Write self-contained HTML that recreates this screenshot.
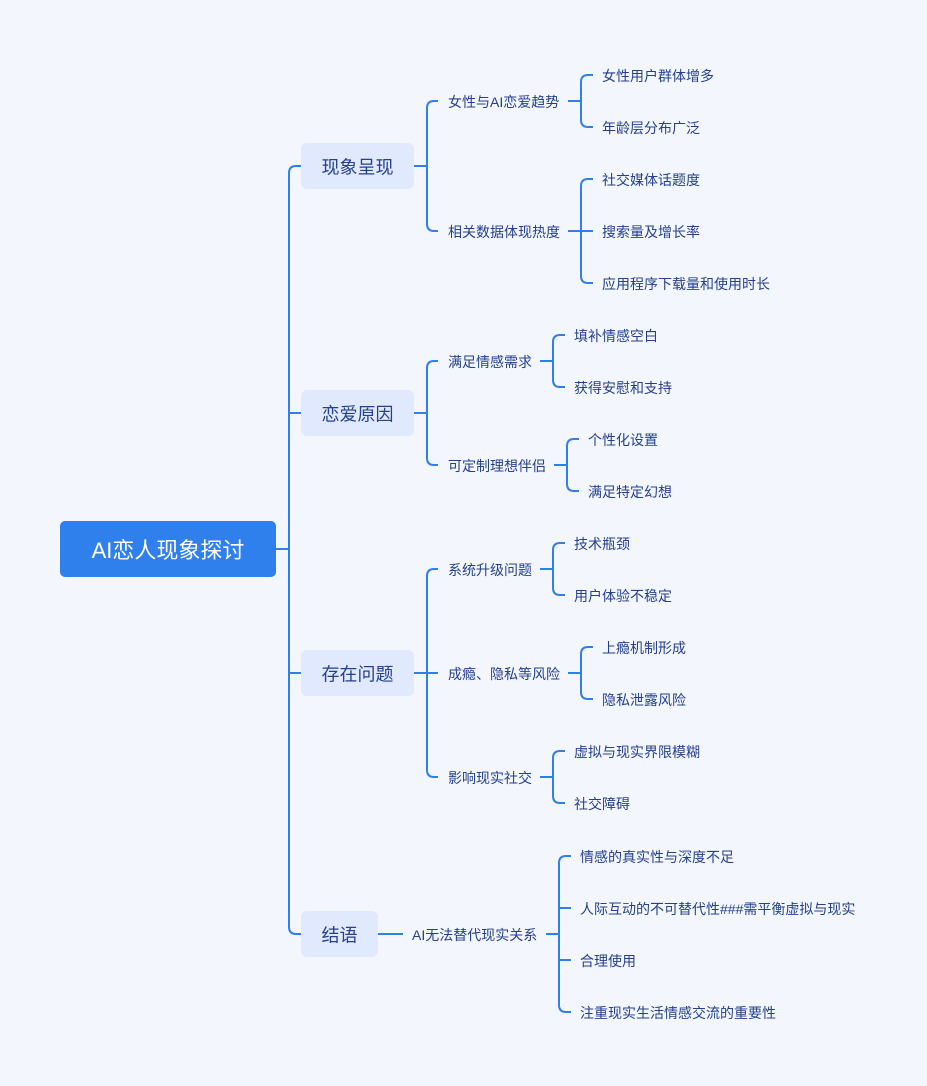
<!DOCTYPE html>
<html><head><meta charset="utf-8"><style>
html,body{margin:0;padding:0;background:#f4f6fd;}
svg{display:block}
text{font-family:"Liberation Sans","Noto Sans CJK SC",sans-serif;}
</style></head><body>
<svg id="s" width="927" height="1086" xmlns="http://www.w3.org/2000/svg">
<rect width="927" height="1086" fill="#f4f6fd"/>
<rect x="60" y="521" width="216" height="56" rx="5" fill="#2f7fed"/>
<text x="168" y="558" font-size="22" fill="#fff" text-anchor="middle">AI恋人现象探讨</text>
<g id="g" fill="none" stroke="#2f7fed" stroke-width="2"></g>
<g id="t"></g>
</svg>
<script>
var g=document.getElementById('g'),t=document.getElementById('t');
function P(d){var p=document.createElementNS('http://www.w3.org/2000/svg','path');p.setAttribute('d',d);g.appendChild(p);}
function T(x,y,s,size,fill,anchor){var e=document.createElementNS('http://www.w3.org/2000/svg','text');e.setAttribute('x',x);e.setAttribute('y',y+1+size*0.36);e.setAttribute('font-size',size);e.setAttribute('fill',fill);if(anchor)e.setAttribute('text-anchor',anchor);e.textContent=s;t.appendChild(e);}
function R(x,y,w,h){var e=document.createElementNS('http://www.w3.org/2000/svg','rect');e.setAttribute('x',x);e.setAttribute('y',y);e.setAttribute('width',w);e.setAttribute('height',h);e.setAttribute('rx',6);e.setAttribute('fill','#e0e9fd');t.appendChild(e);}
function S(px,py,sx,ys,ex){
  P('M'+px+' '+py+' H'+sx);
  if(ys.length==1){P('M'+sx+' '+py+' H'+ex);return;}
  var a=ys[0],b=ys[ys.length-1],r=7;
  P('M'+ex+' '+a+' H'+(sx+r)+' Q'+sx+' '+a+' '+sx+' '+(a+r)+' V'+(b-r)+' Q'+sx+' '+b+' '+(sx+r)+' '+b+' H'+ex);
  for(var i=1;i<ys.length-1;i++)P('M'+sx+' '+ys[i]+' H'+ex);
}
var C='#24408e';
S(276,549,289,[166,413,673,934],301);
var L1=[['现象呈现',166,113],['恋爱原因',413,113],['存在问题',673,113],['结语',934,77]];
L1.forEach(function(a){R(301,a[1]-23,a[2],46);T(301+a[2]/2,a[1],a[0],18,C,'middle');});
S(414,166,427,[101,231],438);
T(448,101,'女性与AI恋爱趋势',14,C);T(448,231,'相关数据体现热度',14,C);
S(568,101,581,[75,127],593);T(602,75,'女性用户群体增多',14,C);T(602,127,'年龄层分布广泛',14,C);
S(568,231,581,[179,231,283],593);T(602,179,'社交媒体话题度',14,C);T(602,231,'搜索量及增长率',14,C);T(602,283,'应用程序下载量和使用时长',14,C);
S(414,413,427,[361,465],438);
T(448,361,'满足情感需求',14,C);T(448,465,'可定制理想伴侣',14,C);
S(540,361,553,[335,387],565);T(574,335,'填补情感空白',14,C);T(574,387,'获得安慰和支持',14,C);
S(554,465,567,[439,491],579);T(588,439,'个性化设置',14,C);T(588,491,'满足特定幻想',14,C);
S(414,673,427,[569,673,777],438);
T(448,569,'系统升级问题',14,C);T(448,673,'成瘾、隐私等风险',14,C);T(448,777,'影响现实社交',14,C);
S(540,569,553,[543,595],565);T(574,543,'技术瓶颈',14,C);T(574,595,'用户体验不稳定',14,C);
S(568,673,581,[647,699],593);T(602,647,'上瘾机制形成',14,C);T(602,699,'隐私泄露风险',14,C);
S(540,777,553,[751,803],565);T(574,751,'虚拟与现实界限模糊',14,C);T(574,803,'社交障碍',14,C);
P('M378 934 H403');
T(412,934,'AI无法替代现实关系',14,C);
S(546,934,559,[856,908,960,1012],571);
T(580,856,'情感的真实性与深度不足',14,C);T(580,908,'人际互动的不可替代性###需平衡虚拟与现实',14,C);
T(580,960,'合理使用',14,C);T(580,1012,'注重现实生活情感交流的重要性',14,C);
</script>
</body></html>
